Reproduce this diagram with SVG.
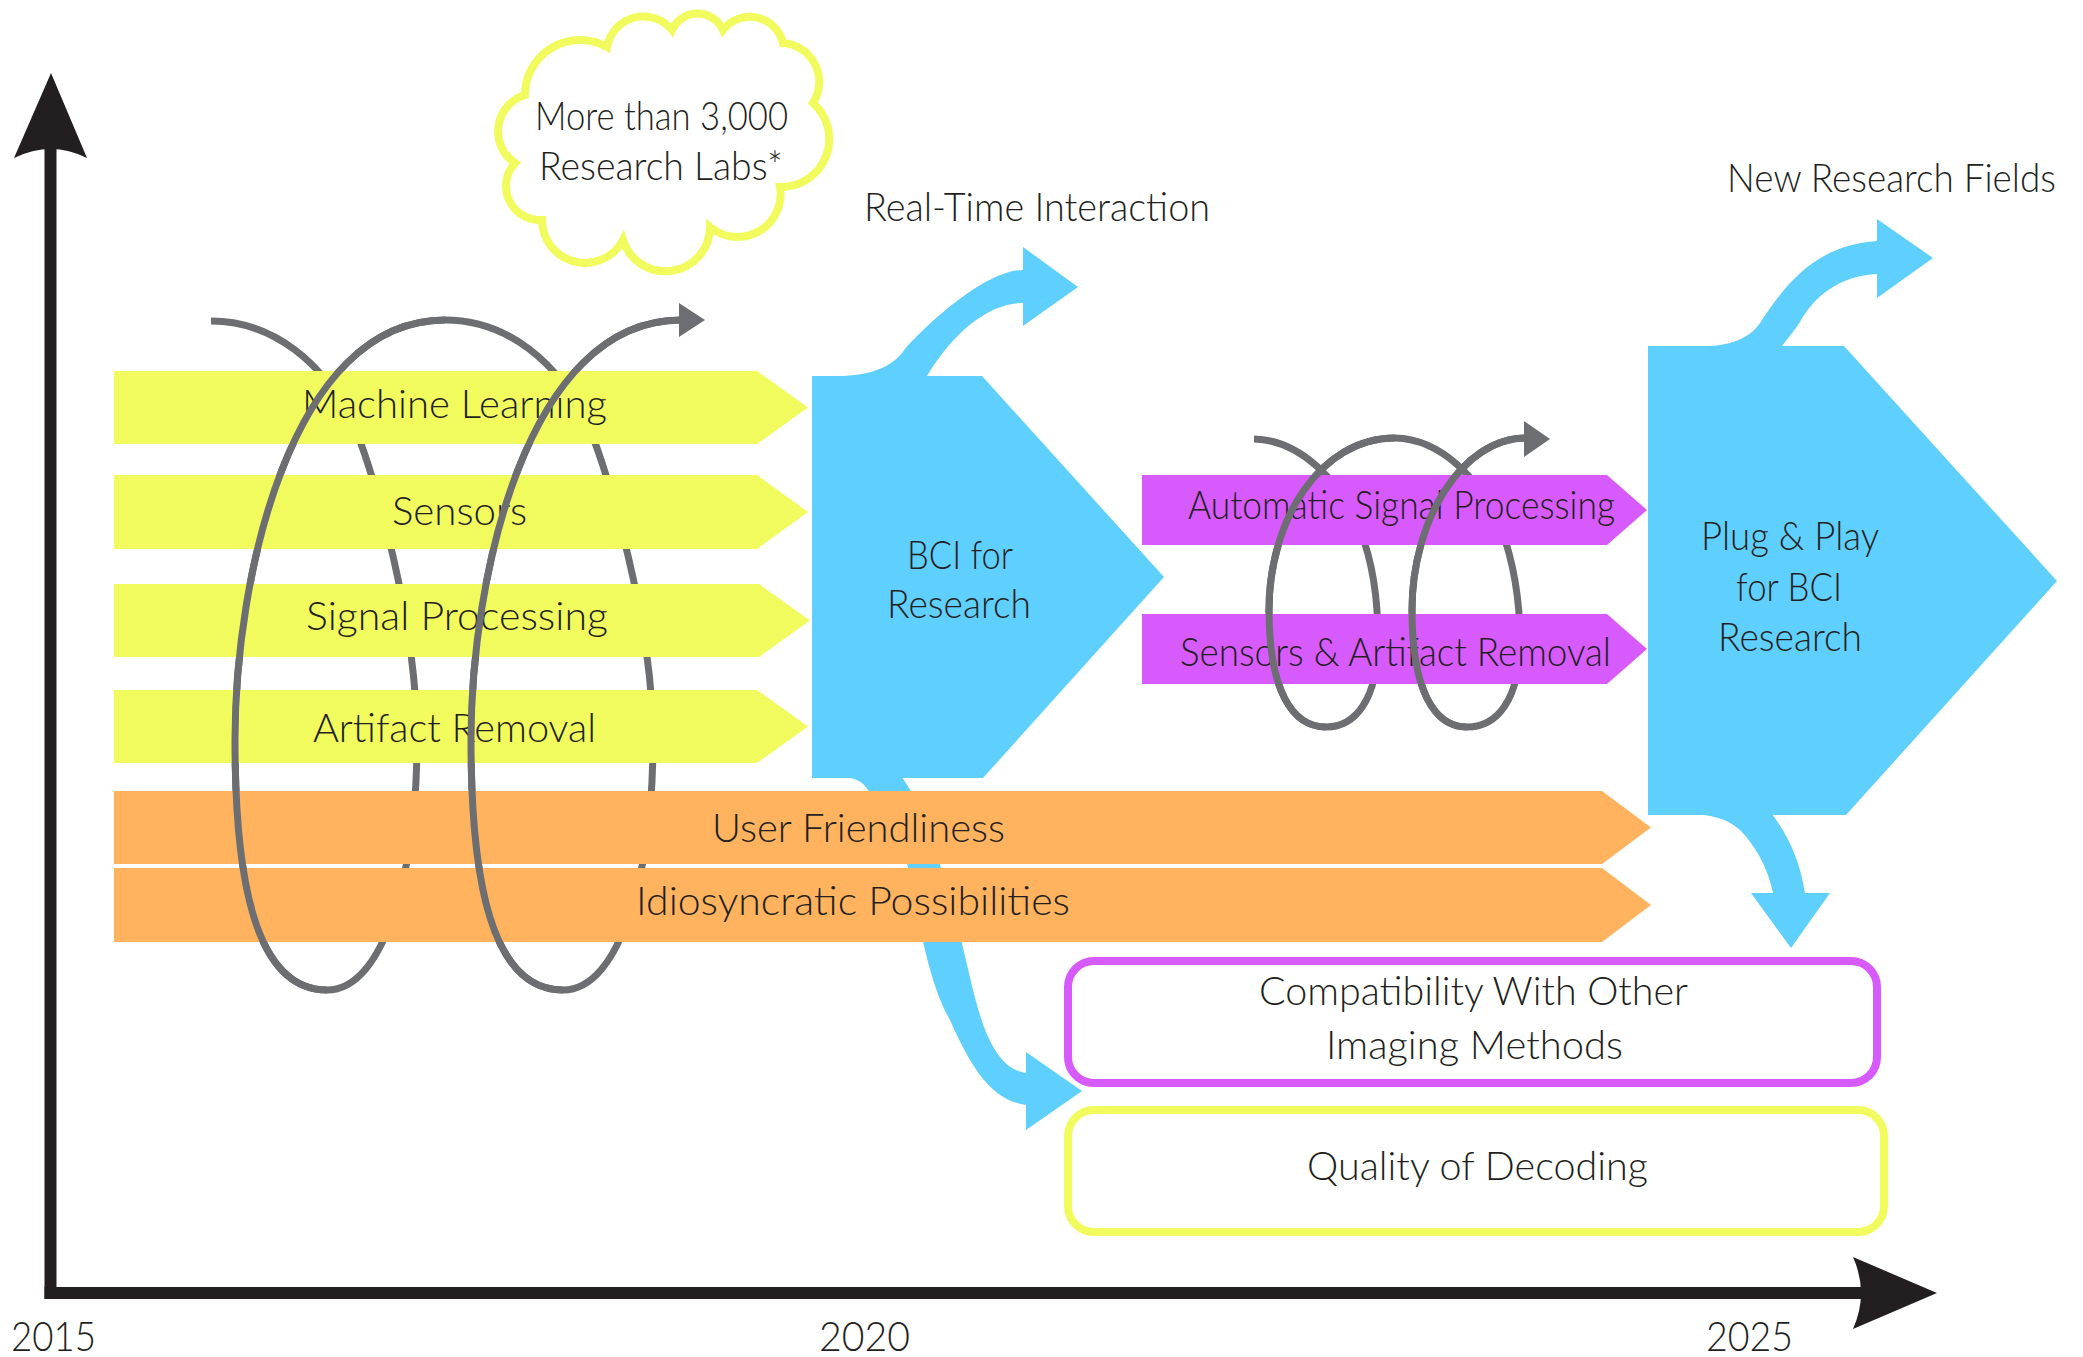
<svg xmlns="http://www.w3.org/2000/svg" width="2083" height="1357" viewBox="0 0 2083 1357">
<style>
.t{font-family:Lato,"Open Sans","Liberation Sans",sans-serif;font-weight:300;font-size:39px;fill:#231f20;text-anchor:middle}
.yr{font-size:42px}
.yel{fill:#f1fb5e}
.org{fill:#ffb35e}
.pur{fill:#d75bfc}
.blu{fill:#5fcffe}
.sp{fill:none;stroke:#6d6e71;stroke-width:7}
.ah{fill:#6d6e71}
.ax{fill:#231f20}
</style>
<rect width="2083" height="1357" fill="#ffffff"/>

<g id="axes">
  <rect class="ax" x="44.5" y="140" width="12" height="1159"/>
  <rect class="ax" x="44.5" y="1287" width="1820" height="12"/>
  <path class="ax" d="M51,73 L87,158 Q51,140 14,158 Z"/>
  <path class="ax" d="M1937,1293 L1853,1329 Q1869,1293 1853,1257 Z"/>
  <text class="t yr" x="53.5" y="1351" textLength="85" lengthAdjust="spacingAndGlyphs">2015</text>
  <text class="t yr" x="864.5" y="1351" textLength="91" lengthAdjust="spacingAndGlyphs">2020</text>
  <text class="t yr" x="1749.5" y="1351" textLength="87" lengthAdjust="spacingAndGlyphs">2025</text>
</g>

<g id="cloud-labs">
  <path d="M525,95 A55,55 0 0 1 607,47 A37,37 0 0 1 672,30 A28,28 0 0 1 723,30 A34,34 0 0 1 783,43 A39,39 0 0 1 813,103 A48,48 0 0 1 780,187 A43,43 0 0 1 710,227 A44.5,44.5 0 0 1 623,240 A43,43 0 0 1 542,220 A34,34 0 0 1 515,163 A38,38 0 0 1 525,95 Z" fill="#ffffff" stroke="#f1fb5e" stroke-width="8"/>
  <text class="t" x="661.5" y="130" textLength="253" lengthAdjust="spacingAndGlyphs">More than 3,000</text>
  <text class="t" x="661" y="180" textLength="244" lengthAdjust="spacingAndGlyphs">Research Labs*</text>
</g>

<g id="label-realtime">
  <text class="t" x="1037" y="221" textLength="346" lengthAdjust="spacingAndGlyphs">Real-Time Interaction</text>
</g>
<g id="label-newfields">
  <text class="t" x="1891.5" y="192" textLength="329" lengthAdjust="spacingAndGlyphs">New Research Fields</text>
</g>

<g id="connectors">
  <path class="blu" d="M812,376 L838,376 C870,376 893,367 905,349 C925,326 985,270 1023,270 L1023,247 L1078,287 L1023,326 L1023,303 C990,303 955,330 927,376 Z"/>
  <path class="blu" d="M812,777 L840,777 C855,777 863,782 868,790 C890,815 902,840 910,875 C920,930 930,985 950,1020 C970,1065 990,1100 1026,1105 L1026,1130 L1082,1091 L1026,1052 L1026,1073 C1003,1070 988,1045 977,1005 C965,960 955,905 940,865 C930,830 918,800 902,777 Z"/>
  <path class="blu" d="M1648,346 L1705,346 C1730,346 1750,338 1760,323 C1785,285 1815,245 1877,241 L1877,219 L1933,258 L1877,298 L1877,274 C1840,276 1815,295 1800,322 C1795,330 1788,338 1782,346 Z"/>
  <path class="blu" d="M1648,814 L1690,814 C1710,814 1728,819 1740,830 C1755,845 1768,868 1773,893 L1751,893 L1791,948 L1830,893 L1805,893 C1800,862 1790,838 1772,814 Z"/>
  <path class="sp" d="M211,321 C271,321 326,361 356,431 C373,471 417,620 417,740 C417,870 385,990 327,990 C255,990 235,880 235,740 C235,580 290,320 445,320 C505,320 560,360 590,430 C607,470 653,620 653,740 C653,870 621,990 563,990 C491,990 471,880 471,740 C471,580 526,320 681,320"/>
  <path class="sp" d="M1254,439 C1300,440 1340,480 1360,530 C1372,560 1378,600 1378,640 C1378,700 1355,727 1326,727 C1292,727 1269,690 1269,610 C1269,520 1320,438 1395,438 C1441,439 1481,479 1501,529 C1513,559 1520,600 1520,640 C1520,700 1497,727 1467,727 C1434,727 1412,690 1412,610 C1412,520 1462,438 1526,438"/>
</g>

<g id="node-bci-research">
  <path class="blu" d="M812,376 L982,376 L1164,577 L983,778 L812,778 Z"/>
  <text class="t" x="960" y="569" textLength="106" lengthAdjust="spacingAndGlyphs">BCI for</text>
  <text class="t" x="959" y="618" textLength="144" lengthAdjust="spacingAndGlyphs">Research</text>
</g>

<g id="node-plug-play">
  <path class="blu" d="M1648,346 L1844,346 L2057,581 L1846,815 L1648,815 Z"/>
  <text class="t" x="1790" y="550" textLength="178" lengthAdjust="spacingAndGlyphs">Plug &amp; Play</text>
  <text class="t" x="1789" y="601" textLength="106" lengthAdjust="spacingAndGlyphs">for BCI</text>
  <text class="t" x="1790" y="651" textLength="144" lengthAdjust="spacingAndGlyphs">Research</text>
</g>

<g id="node-machine-learning">
  <path class="yel" d="M114,371 L757,371 L808,407.5 L757,444 L114,444 Z"/>
  <text class="t" x="454.5" y="418" textLength="305" lengthAdjust="spacingAndGlyphs">Machine Learning</text>
</g>
<g id="node-sensors">
  <path class="yel" d="M114,475 L757,475 L808,512 L757,549 L114,549 Z"/>
  <text class="t" x="459.5" y="525" textLength="135" lengthAdjust="spacingAndGlyphs">Sensors</text>
</g>
<g id="node-signal-processing">
  <path class="yel" d="M114,584 L759,584 L810,620.5 L759,657 L114,657 Z"/>
  <text class="t" x="457" y="630" textLength="302" lengthAdjust="spacingAndGlyphs">Signal Processing</text>
</g>
<g id="node-artifact-removal">
  <path class="yel" d="M114,690 L757,690 L808,726.5 L757,763 L114,763 Z"/>
  <text class="t" x="454.5" y="742" textLength="283" lengthAdjust="spacingAndGlyphs">Artifact Removal</text>
</g>
<g id="node-user-friendliness">
  <path class="org" d="M114,791 L1602,791 L1651,827.5 L1602,864 L114,864 Z"/>
  <text class="t" x="858.5" y="842" textLength="293" lengthAdjust="spacingAndGlyphs">User Friendliness</text>
</g>
<g id="node-idiosyncratic">
  <path class="org" d="M114,868 L1602,868 L1651,905 L1602,942 L114,942 Z"/>
  <text class="t" x="853" y="915" textLength="434" lengthAdjust="spacingAndGlyphs">Idiosyncratic Possibilities</text>
</g>
<g id="node-auto-signal">
  <path class="pur" d="M1142,475 L1607,475 L1647,510 L1607,545 L1142,545 Z"/>
  <text class="t" x="1401.5" y="519" textLength="427" lengthAdjust="spacingAndGlyphs">Automatic Signal Processing</text>
</g>
<g id="node-sensors-artifact">
  <path class="pur" d="M1142,614 L1607,614 L1647,649 L1607,684 L1142,684 Z"/>
  <text class="t" x="1395.5" y="666" textLength="431" lengthAdjust="spacingAndGlyphs">Sensors &amp; Artifact Removal</text>
</g>
<g id="node-compatibility">
  <rect x="1068" y="961" width="809" height="122" rx="26" fill="#ffffff" stroke="#d75bfc" stroke-width="8"/>
  <text class="t" x="1473.5" y="1005" textLength="429" lengthAdjust="spacingAndGlyphs">Compatibility With Other</text>
  <text class="t" x="1474.5" y="1059" textLength="297" lengthAdjust="spacingAndGlyphs">Imaging Methods</text>
</g>
<g id="node-quality">
  <rect x="1068" y="1110" width="816" height="122" rx="26" fill="#ffffff" stroke="#f1fb5e" stroke-width="8"/>
  <text class="t" x="1477.5" y="1180" textLength="341" lengthAdjust="spacingAndGlyphs">Quality of Decoding</text>
</g>

<g id="connectors-front">
  <path class="sp" d="M327,990 C255,990 235,880 235,740 C235,580 290,320 445,320"/>
  <path class="sp" d="M563,990 C491,990 471,880 471,740 C471,580 526,320 681,320"/>
  <path class="ah" d="M679,303 L705,320 L679,337 Z"/>
  <path class="sp" d="M1326,727 C1292,727 1269,690 1269,610 C1269,520 1320,438 1395,438"/>
  <path class="sp" d="M1467,727 C1434,727 1412,690 1412,610 C1412,520 1462,438 1526,438"/>
  <path class="ah" d="M1524,421 L1550,439 L1524,457 Z"/>
</g>
</svg>
